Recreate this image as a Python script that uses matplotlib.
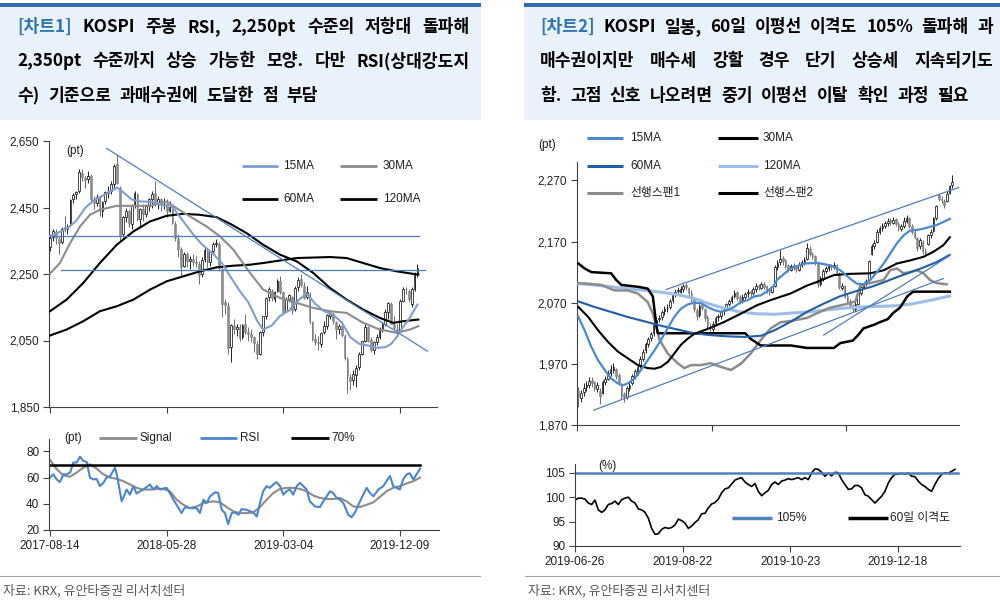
import numpy as np
import matplotlib
matplotlib.use('Agg')
import matplotlib.pyplot as plt
from matplotlib.lines import Line2D
from matplotlib.patches import Rectangle

plt.rcParams['font.family'] = ['Liberation Sans', 'Noto Sans CJK KR']
plt.rcParams['font.size'] = 8.5
plt.rcParams['axes.linewidth'] = 0.8

W, H = 1000, 609
KR = ['Noto Sans CJK KR', 'DejaVu Sans']

# ---------------- chart 1 : KOSPI weekly ----------------
k1_open = [2330,2360,2375,2355,2345,2390,2385,2400,2475,2490,
           2500,2555,2540,2535,2545,2475,2465,2480,2440,2470,
           2495,2500,2520,2580,2510,2370,2420,2440,2400,2460,
           2490,2415,2445,2430,2455,2475,2495,2460,2475,2460,
           2460,2440,2450,2400,2355,2325,2275,2310,2290,2295,
           2285,2280,2250,2295,2320,2285,2320,2340,2340,2265,
           2165,2155,2030,2095,2085,2090,2060,2100,2075,2070,
           2060,2040,2010,2075,2125,2180,2200,2175,2200,2230,
           2195,2140,2175,2180,2145,2210,2235,2215,2180,2190,
           2105,2055,2045,2040,2075,2095,2125,2130,2105,2085,
           2095,2065,1995,1940,1930,1945,1970,2010,2050,2090,
           2050,2020,2045,2060,2085,2100,2135,2160,2100,2085,
           2080,2170,2205,2200,2160,2205,2250]
k1_high = [2365,2385,2385,2365,2390,2425,2400,2475,2495,2500,
           2565,2565,2545,2560,2550,2485,2490,2485,2470,2500,
           2515,2530,2580,2607,2515,2425,2450,2445,2460,2500,
           2495,2450,2460,2460,2480,2500,2530,2485,2480,2480,
           2475,2470,2460,2410,2370,2330,2315,2315,2305,2310,
           2305,2290,2300,2330,2325,2320,2345,2355,2345,2270,
           2175,2165,2100,2115,2100,2100,2100,2130,2090,2085,
           2065,2050,2080,2125,2180,2210,2205,2200,2235,2245,
           2200,2180,2190,2185,2215,2240,2250,2225,2215,2195,
           2110,2070,2065,2075,2110,2130,2140,2135,2110,2100,
           2110,2070,2000,1950,1960,1975,2015,2050,2100,2095,
           2060,2050,2070,2090,2105,2145,2165,2165,2125,2100,
           2175,2210,2210,2205,2210,2255,2280]
k1_low = [2320,2350,2340,2310,2340,2375,2370,2395,2465,2475,
          2495,2530,2510,2525,2465,2445,2455,2425,2420,2460,
          2480,2490,2510,2520,2350,2360,2405,2390,2385,2450,
          2410,2395,2410,2420,2440,2450,2455,2445,2440,2445,
          2420,2435,2400,2350,2300,2245,2270,2270,2265,2275,
          2270,2220,2240,2285,2270,2275,2310,2330,2260,2120,
          2130,2010,1985,2070,2065,2050,2055,2070,2050,2045,
          2015,1993,2005,2065,2115,2170,2170,2165,2195,2190,
          2130,2135,2165,2130,2140,2200,2210,2175,2175,2100,
          2050,2035,2020,2030,2070,2085,2115,2100,2055,2070,
          2060,1990,1891,1900,1915,1910,1960,2005,2045,2045,
          2015,2010,2035,2055,2075,2095,2115,2100,2085,2060,
          2075,2165,2190,2165,2150,2200,2240]
k1_close = [2358,2378,2357,2343,2386,2388,2394,2473,2489,2497,
            2557,2542,2534,2545,2475,2464,2482,2440,2467,2497,
            2497,2521,2574,2525,2363,2421,2440,2402,2459,2494,
            2416,2445,2429,2455,2476,2492,2461,2477,2460,2460,
            2438,2452,2404,2357,2326,2272,2310,2289,2294,2287,
            2282,2247,2293,2322,2287,2318,2339,2343,2267,2161,
            2156,2027,2096,2086,2092,2057,2097,2075,2070,2061,
            2041,2010,2075,2124,2177,2204,2178,2196,2230,2195,
            2137,2176,2186,2141,2209,2233,2216,2179,2196,2108,
            2055,2045,2041,2072,2095,2126,2130,2110,2086,2094,
            2066,1998,1943,1927,1948,1967,2009,2049,2091,2050,
            2021,2044,2061,2085,2100,2137,2162,2101,2087,2081,
            2170,2204,2204,2176,2206,2250,2268]

l15_x = [0,3,6,9,12,15,18,21,23,25,28,31,35,39,41,43,46,49,52,56,59,62,65,68,71,
         73,76,79,82,85,88,91,94,97,100,103,106,109,112,115,117,119,121,123,126]
l15_y = [2365,2375,2388,2410,2448,2472,2485,2500,2510,2497,2474,2468,2467,2456,2460,
         2440,2405,2370,2340,2310,2282,2240,2200,2165,2110,2083,2095,2125,2140,2170,
         2192,2160,2138,2128,2105,2060,2040,2035,2028,2030,2040,2062,2090,2113,2158]
l30_x = [0,3.4,6.9,10.3,13.7,17.1,22.9,28.6,34.3,40,43.4,48,53.7,58.3,62.9,68.6,
         73.1,78.9,84.6,90.3,96,101.7,107.4,113.1,118.9,123.4,126.3]
l30_y = [2251,2283,2343,2393,2428,2443,2455,2455,2455,2468,2448,2423,2393,2363,2323,
         2253,2203,2178,2163,2148,2138,2133,2103,2083,2073,2083,2093]
l60_x = [0,5.7,11.4,17.1,22.9,28.6,34.3,40,45.7,51.4,57.1,62,67.4,73.1,78.9,84.6,
         90.3,96,101.7,107.4,113.1,117.7,121.1,126.3]
l60_y = [2138,2173,2223,2283,2338,2378,2408,2425,2431,2428,2421,2400,2373,2338,2308,
         2288,2253,2208,2173,2143,2118,2103,2108,2113]
l120_x = [0,5.7,11.4,17.1,22.9,28.6,34.3,40,45.7,51.4,57.1,62.9,68.6,73.1,84.6,96,
          101.7,107.4,113.1,118.9,126.3]
l120_y = [2065,2083,2108,2138,2153,2173,2203,2228,2243,2258,2270,2275,2278,2283,2298,
          2301,2298,2283,2268,2258,2248]

l_resist = [[19.4, 129.4], [2628, 2018]]
l_hlines = [(2365, 0, 126.6), (2261, 3.8, 128.6)]

rsi_x = [0,1.1,2.3,3.4,4.6,5.7,6.9,8,9.1,10.3,11.4,12.6,13.7,14.9,16,17.1,18.3,19.4,20.6,22.3,
         22.9,24.6,26.3,27.4,28.6,29.7,30.9,32,34.3,35.4,36.6,37.7,40,41.1,42.3,43.4,45.1,46.3,48,50.3,
         51.4,52.6,53.7,54.9,56.6,57.7,58.9,60,61.1,62.3,63.4,64.6,65.7,67.4,69.7,70.9,72,73.1,74.3,75.4,
         76.6,77.7,78.9,80,81.1,82.3,83.4,84.6,85.7,86.9,88,89.1,90.9,92.6,93.7,94.9,96,97.1,98.3,99.4,
         100.6,102.3,103.4,104.6,106.3,108.6,109.7,110.9,112.6,114.3,115.4,116.6,117.7,118.9,120,121.1,
         122.3,123.4,124.6,125.7,126.9]
rsi_y = [60,62.5,58.6,56.6,62.5,62.5,63.8,71.5,71.5,76,72.8,72,60,58.6,59,53.5,56,60,61,67.6,
         62.5,41.9,50.9,47,53.5,47.8,49.6,50.9,54.8,50.9,53.5,50.9,52.2,48.3,43.2,39.3,32.9,37.5,36.7,36.7,
         32.9,43.2,40.6,45.7,48.8,48.3,35.4,32.9,24.6,32.9,33.4,31.6,36,35.4,33.4,30.3,40.6,49.6,53.5,52.2,
         54.8,56.6,53.5,47,49.6,50.9,47,53.5,56,53.5,50.9,41.9,38,37.5,41.9,45.7,49.6,48.3,44.5,43.2,
         40.6,31.6,29.8,33.4,41.9,52.2,48.3,45.7,50.9,53.5,57.3,61.2,53.5,52.2,50.9,58.6,
         62.5,63.3,58.6,62.5,66.9]
sig_x = [0,2.3,4.6,6.9,9.1,11.4,13.7,16,18.3,20.6,22.9,25.1,27.4,29.7,32,34.3,36.6,38.9,41.1,43.4,
         45.7,48,50.3,52.6,56,58.3,60.6,62.9,65.1,67.4,69.7,72,74.3,76.6,78.9,81.1,83.4,85.7,88,90.3,
         92.6,94.9,97.1,99.4,101.7,104,106.3,108.6,110.9,113.1,115.4,117.7,120,122.3,124.6,126.9]
sig_y = [73.6,66.4,61.7,60.7,63.8,67.6,70.2,66.9,62.5,60,59.1,57.3,54.8,52.2,50.9,50.9,51.4,51.4,49.6,43.2,
         39.3,36.7,38,40.6,41.9,41.1,37.5,34.2,32.9,32.9,33.4,37.5,43.2,48.3,51.4,52.2,52.2,51.4,49.6,46.3,
         44.5,43.7,43.7,44.5,41.9,38,37.5,39.3,41.1,45.2,49.6,52.2,53.5,55.5,57.3,60]
k1_ticks = [0, 40, 80, 120]
k1_labels = ['2017-08-14', '2018-05-28', '2019-03-04', '2019-12-09']

# ---------------- chart 2 : KOSPI daily ----------------
k2_open = [1928,1914,1924,1932,1935,1944,1940,1929,1925,1922,
           1940,1946,1955,1960,1962,1952,1935,1920,1916,1930,
           1938,1950,1957,1966,1978,1992,2002,2012,2020,2036,
           2044,2046,2056,2061,2063,2074,2084,2089,2088,2092,
           2099,2094,2086,2074,2058,2050,2066,2060,2046,2030,
           2027,2036,2046,2048,2056,2061,2068,2073,2081,2087,
           2079,2072,2080,2085,2089,2086,2092,2099,2094,2101,
           2097,2090,2088,2098,2128,2136,2143,2139,2131,2124,
           2131,2129,2124,2132,2136,2141,2158,2150,2146,2134,
           2100,2110,2122,2126,2131,2129,2131,2117,2094,2097,
           2081,2073,2066,2060,2068,2086,2096,2100,2107,2150,
           2162,2170,2185,2192,2196,2200,2205,2201,2206,2199,
           2191,2195,2204,2208,2196,2186,2176,2162,2170,2155,
           2166,2180,2188,2208,2246,2240,2237,2236,2250,2262]
k2_high = [1932,1928,1938,1942,1948,1948,1942,1940,1930,1944,
           1950,1960,1968,1971,1964,1955,1938,1924,1934,1940,
           1954,1962,1968,1982,1995,2006,2014,2022,2038,2046,
           2050,2058,2064,2068,2076,2086,2092,2095,2097,2101,
           2102,2096,2090,2076,2062,2068,2070,2062,2050,2036,
           2040,2048,2052,2058,2063,2070,2076,2083,2090,2089,
           2082,2084,2088,2092,2091,2096,2102,2101,2104,2103,
           2099,2093,2098,2132,2140,2156,2146,2141,2134,2134,
           2135,2131,2136,2140,2145,2167,2162,2153,2148,2136,
           2114,2125,2130,2134,2133,2136,2133,2120,2102,2099,
           2084,2076,2068,2072,2088,2098,2104,2108,2140,2166,
           2172,2190,2196,2200,2204,2208,2208,2210,2208,2202,
           2199,2210,2214,2210,2199,2190,2178,2176,2173,2160,
           2183,2190,2210,2230,2250,2244,2240,2252,2263,2278]
k2_low = [1900,1908,1918,1925,1930,1932,1925,1924,1905,1920,
          1936,1944,1950,1955,1945,1936,1912,1908,1912,1926,
          1935,1946,1952,1963,1975,1988,1998,2008,2016,2030,
          2038,2042,2050,2055,2060,2070,2080,2084,2085,2088,
          2090,2080,2070,2055,2042,2046,2058,2040,2028,2020,
          2022,2032,2040,2044,2050,2057,2064,2070,2078,2074,
          2068,2070,2076,2080,2080,2082,2088,2090,2092,2093,
          2086,2083,2085,2096,2124,2132,2132,2126,2120,2121,
          2124,2120,2122,2128,2132,2139,2146,2142,2132,2096,
          2097,2106,2118,2122,2124,2125,2115,2092,2090,2077,
          2068,2062,2055,2057,2066,2083,2093,2097,2105,2148,
          2158,2168,2182,2188,2192,2196,2197,2198,2195,2188,
          2187,2192,2200,2192,2182,2174,2155,2158,2150,2146,
          2164,2176,2186,2205,2236,2233,2224,2234,2248,2258]
k2_close = [1915,1922,1930,1936,1942,1938,1930,1935,1918,1940,
            1945,1955,1962,1965,1950,1940,1918,1915,1930,1935,
            1950,1958,1965,1978,1990,2003,2010,2018,2035,2042,
            2045,2055,2060,2062,2072,2083,2088,2090,2093,2098,
            2095,2085,2075,2060,2048,2065,2062,2045,2032,2028,
            2035,2045,2048,2055,2060,2068,2072,2080,2086,2078,
            2072,2080,2084,2088,2085,2092,2098,2095,2100,2096,
            2090,2088,2095,2128,2135,2142,2138,2130,2125,2130,
            2128,2125,2132,2136,2140,2160,2150,2146,2135,2100,
            2110,2122,2126,2130,2128,2132,2118,2095,2098,2080,
            2072,2065,2060,2068,2085,2095,2100,2105,2138,2162,
            2168,2185,2192,2196,2200,2204,2202,2205,2198,2192,
            2195,2204,2208,2196,2185,2178,2160,2172,2155,2152,
            2180,2186,2208,2228,2240,2238,2230,2248,2260,2268]

r15_x = [0,2.3,4.8,7.3,9.8,12.2,14.7,16.5,18.4,20.9,23.3,25.8,28.3,30.7,33.2,35.7,38.1,40.6,43.1,45.6,
         48,50.5,53,55.4,57.9,60.4,62.8,65.3,67.8,70,72.5,74,78.9,83.8,88.8,93.7,97.4,101.1,103.6,106,
         108.5,111,113.5,115.9,118.4,120.9,123.3,125.8,128.3,130.7,133.2,135.7,138.1]
r15_y = [2047,2025,1998,1976,1960,1946,1938,1935,1938,1946,1960,1976,1992,2009,2028,2047,2060,2067,2070,2069,
         2063,2058,2055,2058,2063,2071,2074,2080,2082,2088,2097,2108,2126,2134,2135,2131,2123,2109,2101,2100,
         2107,2120,2134,2150,2167,2180,2188,2189,2191,2194,2197,2202,2207]
r30_x = [0,3.6,7.3,11,14.7,18.4,22.1,25.8,28.3,30.7,33.2,35.7,38.1,40.6,43.1,48,54,60.4,66.5,72,
         78.9,85,88.8,94.9,100,108.5,113.5,118.4,123.3,128.3,131.9,135.7,138.1]
r30_y = [2063,2047,2025,2006,1990,1979,1968,1963,1962,1965,1973,1987,2001,2011,2019,2027,2038,2052,2066,2075,
         2085,2098,2104,2115,2117,2118,2123,2134,2139,2145,2153,2164,2177]
r60_x = [0,6,12,18,25,31,37,43,49,55,62,68,73,79,85,91,97,104,109,114,118,123,128,133,138]
r60_y = [2072,2063,2055,2047,2039,2032,2026,2020,2017,2015,2014,2016,2025,2039,2055,2068,2080,2090,2096,2104,
         2111,2119,2127,2136,2148]
r120_x = [0,6,12,18,25,31,37,43,48,54,60,66,73,79,86,92,99,105,112,118,124,131,138]
r120_y = [2101,2099,2096,2093,2090,2087,2083,2077,2069,2061,2055,2052,2051,2053,2055,2058,2061,2063,2064,2065,
          2068,2074,2081]
span1_x = [0,3.6,8.5,13.5,18.4,22.1,25.8,27.7,29,30.2,33.2,36.9,39.4,41.9,45.6,49.3,53,56.7,60.4,64.1,
           67.8,71.5,75.2,78.9,85,88.8,93.7,99.9,103,104.8,108.5,113.5,115.9,118.4,120.9,123.3,125.8,128.3,
           130.7,133.2,136.9]
span1_y = [2102,2101,2099,2090,2090,2085,2071,2052,2031,2009,1987,1971,1963,1968,1968,1971,1965,1960,1970,1987,
           2009,2028,2038,2040,2045,2053,2062,2068,2072,2098,2102,2107,2123,2126,2118,2120,2123,2118,
           2107,2102,2100]
span2_x = [0,2.3,4.8,12.2,14.1,16,22.1,25.8,27.7,28.9,29.5,62,64,67.8,79,85,95,97.4,102,104,
           106,110,112,115,117,119.6,122.2,124.4,138.1]
span2_y = [2134,2126,2120,2118,2107,2099,2096,2093,2080,2036,2020,2020,2011,2000,2000,1996,1996,2004,2008,2017,
           2028,2034,2038,2043,2053,2062,2080,2088,2088]
r_trends = [([32.6, 141.9], [2091.5, 2259]),
            ([5.8, 135.7], [1894.4, 2109.5]),
            ([91.2, 138.1], [2017, 2147])]

disp = [99.4,99.8,99.8,99.6,98.8,98.5,99.4,97.4,96.9,97.4,98.5,98.7,99.2,98.5,99.5,99.8,100,99.2,98.8,97.6,
        97.4,96.9,95.7,93.6,92.4,92.5,93.4,93.8,93.6,93.8,94.3,95.5,95.2,94.7,93.6,94.1,94.8,95.4,96.6,96.7,
        97.8,98.6,98.9,99.6,100.9,101.7,101.9,102.7,103.5,103.8,104,103.1,102.6,102.2,102.8,101.2,100.3,100.9,
        101.4,102.6,103.1,102.6,103.3,103.5,103.8,103.6,103.8,104,103.6,104,103.6,105,105.8,105.7,105.1,104.3,
        104.9,104.4,105.1,105,103.6,102.6,101.6,101.7,102.4,102.4,101.9,100.5,100.2,99.5,98.8,99.5,100.2,101.2,
        102.9,104,104.7,104.7,104.9,104.7,105,104.3,104.2,103.3,102.6,102.2,101.6,101.2,102.6,103.8,104.7,105,
        104.9,105.3,105.7]
k2_ticks_lbl = ['2019-06-26', '2019-08-22', '2019-10-23', '2019-12-18']

title1 = [(['[차트1]', 'KOSPI', '주봉', 'RSI,', '2,250pt', '수준의', '저항대', '돌파해'], True),
          (['2,350pt', '수준까지', '상승', '가능한', '모양.', '다만', 'RSI(상대강도지'], True),
          (['수)', '기준으로', '과매수권에', '도달한', '점', '부담'], False)]
title2 = [(['[차트2]', 'KOSPI', '일봉,', '60일', '이평선', '이격도', '105%', '돌파해', '과'], True),
          (['매수권이지만', '매수세', '강할', '경우', '단기', '상승세', '지속되기도'], True),
          (['함.', '고점', '신호', '나오려면', '중기', '이평선', '이탈', '확인', '과정', '필요'], False)]
source = '자료: KRX, 유안타증권 리서치센터'


# ---------------- helpers ----------------
def fx(x):
    return x / W


def fy(y):
    return 1 - y / H


def candles(ax, o, h, l, c, width):
    o, h, l, c = map(np.asarray, (o, h, l, c))
    x = np.arange(len(c))
    up = c >= o
    ax.vlines(x[up], l[up], h[up], color='black', lw=0.6, zorder=2)
    ax.vlines(x[~up], l[~up], h[~up], color='#555555', lw=0.6, zorder=2)
    ax.bar(x[up], np.maximum(c - o, 0.8)[up], bottom=o[up], width=width,
           color='white', edgecolor='black', lw=0.5, zorder=3)
    ax.bar(x[~up], (o - c)[~up], bottom=c[~up], width=width,
           color='#8c8c8c', edgecolor='#808080', lw=0.4, zorder=3)


def style(ax):
    for s in ['top', 'right']:
        ax.spines[s].set_visible(False)
    for s in ['left', 'bottom']:
        ax.spines[s].set_color('#404040')
    ax.tick_params(direction='out', length=4, width=0.8, colors='#404040',
                   labelcolor='#202020', labelsize=8.5, pad=3)


def fig_leg(x0, x1, y, color, lw, label, tx):
    fig.add_artist(Line2D([fx(x0), fx(x1)], [fy(y), fy(y)], color=color, lw=lw,
                          solid_capstyle='butt'))
    fig.text(fx(tx), fy(y), label, fontsize=8.5, va='center', ha='left', color='#202020')


def title_block(lines, x0, x1, y0, dy, color_lbl):
    # justified lines spread words to the full width, the last line uses a fixed gap
    r = fig.canvas.get_renderer()
    for k, (words, just) in enumerate(lines):
        y = y0 + k * dy
        txts = []
        for w in words:
            col = color_lbl if w.startswith('[차트') else 'black'
            txts.append(fig.text(0, fy(y), w, fontsize=12.3, fontweight='bold', color=col,
                                 va='center', ha='left', family=KR))
        widths = [t.get_window_extent(r).width for t in txts]
        gap = (x1 - x0 - sum(widths)) / (len(words) - 1) if just else 8.5
        x = x0
        for t, wd in zip(txts, widths):
            t.set_x(fx(x))
            x += wd + gap


fig = plt.figure(figsize=(W / 100, H / 100), dpi=100)

# title boxes
for bx0, bx1 in [(0, 481), (524, 1000)]:
    fig.add_artist(Rectangle((fx(bx0), fy(120)), (bx1 - bx0) / W, 116 / H,
                             transform=fig.transFigure, color='#E9F2FB', lw=0))
    fig.add_artist(Rectangle((fx(bx0), fy(7)), (bx1 - bx0) / W, 3.5 / H,
                             transform=fig.transFigure, color='#3569AE', lw=0))
title_block(title1, 17, 470, 27, 34.5, '#2E74B5')
title_block(title2, 540, 993, 27, 34.5, '#2E74B5')

# ---------------- chart 1 main ----------------
ax1 = fig.add_axes([fx(49), fy(407), 388 / W, 266 / H])
style(ax1)
candles(ax1, k1_open, k1_high, k1_low, k1_close, 0.62)
ax1.plot(l120_x, l120_y, color='black', lw=1.5, zorder=4)
ax1.plot(l60_x, l60_y, color='black', lw=1.5, zorder=4)
ax1.plot(l30_x, l30_y, color='#8c8c8c', lw=1.5, zorder=4)
ax1.plot(l15_x, l15_y, color='#7F9ED0', lw=1.5, zorder=4)
for yv, xa, xb in l_hlines:
    ax1.plot([xa, xb], [yv, yv], color='#4F7EC0', lw=0.9, zorder=5)
ax1.plot(*l_resist, color='#4F7EC0', lw=0.9, zorder=5)
ax1.set_xlim(-0.34, 132.7)
ax1.set_ylim(1850, 2650)
ax1.set_yticks([1850, 2050, 2250, 2450, 2650])
ax1.set_yticklabels(['{:,}'.format(v) for v in [1850, 2050, 2250, 2450, 2650]])
ax1.set_xticks(k1_ticks)
ax1.set_xticklabels([])
fig.text(fx(75), fy(151), '(pt)', fontsize=8.5, ha='center', va='center', color='#202020')
fig_leg(242, 278, 166, '#7F9ED0', 2, '15MA', 283)
fig_leg(340, 377, 166, '#8c8c8c', 2, '30MA', 383)
fig_leg(242, 278, 199, 'black', 2, '60MA', 283)
fig_leg(340, 377, 199, 'black', 2, '120MA', 383)

# ---------------- chart 1 RSI ----------------
ax2 = fig.add_axes([fx(49), fy(530), 390 / W, 91 / H])
style(ax2)
ax2.plot(sig_x, sig_y, color='#8c8c8c', lw=1.5)
ax2.plot(rsi_x, rsi_y, color='#4A86CF', lw=1.5)
ax2.plot([0, 127], [70, 70], color='black', lw=1.8)
ax2.set_xlim(-0.34, 133.4)
ax2.set_ylim(20, 89.5)
ax2.set_yticks([20, 40, 60, 80])
ax2.set_xticks(k1_ticks)
ax2.set_xticklabels(k1_labels)
fig.text(fx(73), fy(438), '(pt)', fontsize=8.5, ha='center', va='center', color='#202020')
fig_leg(99, 137, 438, '#8c8c8c', 2, 'Signal', 140)
fig_leg(200, 237, 438, '#4A86CF', 2, 'RSI', 240)
fig_leg(291, 329, 438, 'black', 2, '70%', 331)

# ---------------- chart 2 main ----------------
ax3 = fig.add_axes([fx(577), fy(425), 382 / W, 263 / H])
style(ax3)
candles(ax3, k2_open, k2_high, k2_low, k2_close, 0.6)
ax3.plot(r120_x, r120_y, color='#9CBFE8', lw=2.2, zorder=4)
ax3.plot(span1_x, span1_y, color='#8c8c8c', lw=1.8, zorder=4)
ax3.plot(span2_x, span2_y, color='black', lw=1.8, zorder=4)
ax3.plot(r60_x, r60_y, color='#1F5FA8', lw=1.5, zorder=4)
ax3.plot(r30_x, r30_y, color='black', lw=1.5, zorder=4)
ax3.plot(r15_x, r15_y, color='#4A89D2', lw=1.6, zorder=4)
for tx_, ty_ in r_trends:
    ax3.plot(tx_, ty_, color='#4F7EC0', lw=0.9, zorder=5)
ax3.set_xlim(-0.5, 141.5)
ax3.set_ylim(1870, 2300)
ax3.set_yticks([1870, 1970, 2070, 2170, 2270])
ax3.set_yticklabels(['{:,}'.format(v) for v in [1870, 1970, 2070, 2170, 2270]])
ax3.set_xticks([-0.5, 49.5, 99.5])
ax3.set_xticklabels([])
fig.text(fx(547), fy(145), '(pt)', fontsize=8.5, ha='center', va='center', color='#202020')
fig_leg(587, 623, 138, '#4A89D2', 2.2, '15MA', 630)
fig_leg(718, 758, 138, 'black', 2.2, '30MA', 763)
fig_leg(587, 623, 166, '#1F5FA8', 2.2, '60MA', 630)
fig_leg(718, 758, 166, '#9CBFE8', 2.2, '120MA', 763)
fig_leg(587, 623, 193, '#8c8c8c', 2.2, '선행스팬1', 630)
fig_leg(718, 758, 193, 'black', 2.2, '선행스팬2', 763)

# ---------------- chart 2 disparity ----------------
ax4 = fig.add_axes([fx(575), fy(546), 385 / W, 82 / H])
style(ax4)
x0d = -1.24
ax4.plot(np.linspace(x0d, 140, len(disp)), disp, color='black', lw=1.2)
ax4.plot([x0d, 141], [105, 105], color='#4F81BD', lw=1.8)
ax4.set_xlim(x0d, x0d + 385 / 2.69)
ax4.set_ylim(90, 106.8)
ax4.set_yticks([90, 95, 100, 105])
ax4.set_xticks([x0d, x0d + 40, x0d + 80, x0d + 120])
ax4.set_xticklabels(k2_ticks_lbl)
fig.text(fx(607), fy(466), '(%)', fontsize=8.5, ha='center', va='center', color='#202020')
fig_leg(732, 772, 518, '#4F81BD', 2.5, '105%', 776)
fig_leg(848, 888, 518, 'black', 2.5, '60일 이격도', 890)

# ---------------- source lines ----------------
for sx0, sx1 in [(0, 480), (525, 1000)]:
    fig.add_artist(Line2D([fx(sx0), fx(sx1)], [fy(576), fy(576)], color='#a6a6a6', lw=0.8))
    fig.text(fx(sx0 + 3), fy(591), source, fontsize=9.3, color='#595959', va='center',
             ha='left', family=KR)

fig.savefig('out.png', dpi=100)
